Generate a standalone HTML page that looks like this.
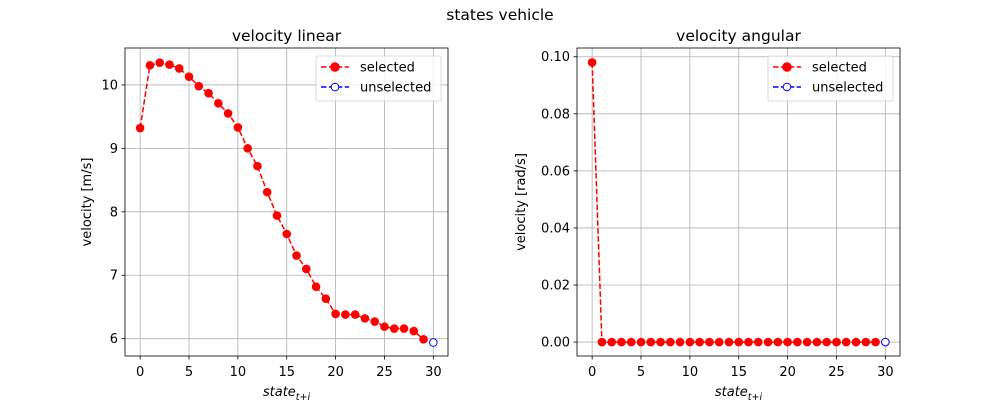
<!DOCTYPE html>
<html><head><meta charset="utf-8"><style>
body{margin:0;background:#fff}
svg text{font-family:"DejaVu Sans","Liberation Sans",sans-serif;fill:#000}
</style></head><body>
<svg id="fig" width="1000" height="400">
<text x="500" y="20" font-size="15.5" text-anchor="middle">states vehicle</text>
</svg>
<script>
const steps = [0,1,2,3,4,5,6,7,8,9,10,11,12,13,14,15,16,17,18,19,20,21,22,23,24,25,26,27,28,29];
const linearSelected = [9.32,10.31,10.35,10.32,10.26,10.13,9.98,9.87,9.71,9.55,9.33,9.0,8.72,8.31,7.94,7.65,7.31,7.10,6.82,6.63,6.39,6.38,6.38,6.32,6.27,6.19,6.16,6.16,6.12,5.99];
const angularSelected = [0.098,0,0,0,0,0,0,0,0,0,0,0,0,0,0,0,0,0,0,0,0,0,0,0,0,0,0,0,0,0];
const unselectedX = [30];
const linearUnselected = [5.94];
const angularUnselected = [0.0];
const xTicks = [0,5,10,15,20,25,30];
const linearYTicks = [6,7,8,9,10];
const angularYTicks = [0.00,0.02,0.04,0.06,0.08,0.10];

const NS='http://www.w3.org/2000/svg';
const svg=document.getElementById('fig');
function mk(tag,attrs,parent){const e=document.createElementNS(NS,tag);for(const k in attrs)e.setAttribute(k,attrs[k]);(parent||svg).appendChild(e);return e;}

function chart(o){
  const g=mk('g',{});
  
  
  const X=v=>o.L+(v-o.xmin)/(o.xmax-o.xmin)*(o.R-o.L);
  const Y=v=>o.B-(v-o.ymin)/(o.ymax-o.ymin)*(o.B-o.T);
  xTicks.forEach(t=>{
    const x=X(t);
    const gl=mk('line',{x1:x,x2:x,y1:o.T,y2:o.B,stroke:'#b0b0b0','stroke-width':0.8},g);
    
    
    mk('line',{x1:x,x2:x,y1:o.B,y2:o.B+3.5,stroke:'#000','stroke-width':0.8},g);
    const tx=mk('text',{x:x,y:o.B+20,'font-size':13,'text-anchor':'middle'},g);
    tx.textContent=t;
    
    
  });
  o.yt.forEach(t=>{
    const y=Y(t);
    const gl=mk('line',{x1:o.L,x2:o.R,y1:y,y2:y,stroke:'#b0b0b0','stroke-width':0.8},g);
    
    
    mk('line',{x1:o.L-3.5,x2:o.L,y1:y,y2:y,stroke:'#000','stroke-width':0.8},g);
    const tx=mk('text',{x:o.L-7,y:y+4.5,'font-size':13,'text-anchor':'end'},g);
    tx.textContent=o.fmt(t);
    
    
  });
  const pts=steps.map((s,i)=>X(s)+','+Y(o.sel[i])).join(' ');
  const ln=mk('polyline',{points:pts,fill:'none',stroke:'#ff0000','stroke-width':1.5,'stroke-dasharray':'5.5,2.4'},g);
  
  
  steps.forEach((s,i)=>{
    const c=mk('circle',{cx:X(s),cy:Y(o.sel[i]),r:4.3,fill:'#ff0000'},g);
    
    
  });
  unselectedX.forEach((s,i)=>{
    const c=mk('circle',{cx:X(s),cy:Y(o.uns[i]),r:3.8,fill:'#fff',stroke:'#0000ff','stroke-width':1},g);
    
    
  });
  const fr=mk('rect',{x:o.L,y:o.T,width:o.R-o.L,height:o.B-o.T,fill:'none',stroke:'#000','stroke-width':0.8},g);
  
  
  const ti=mk('text',{x:(o.L+o.R)/2,y:o.T-7,'font-size':15.5,'text-anchor':'middle'},g);
  ti.textContent=o.title;
  
  
  const xl=mk('text',{x:(o.L+o.R)/2,y:o.B+40,'font-size':13,'text-anchor':'middle','font-style':'italic'},g);
  xl.innerHTML='state<tspan dy="4" font-size="9.5">t+i</tspan>';
  
  
  const yx=o.L-o.ylOff, yy=(o.T+o.B)/2;
  const yl=mk('text',{x:yx,y:yy,'font-size':13,'text-anchor':'middle',transform:`rotate(-90 ${yx} ${yy})`},g);
  yl.textContent=o.ylabel;
  
  
  const lg=mk('g',{},g);
  
  
  mk('rect',{x:o.lgx,y:56,width:125,height:45,rx:2,fill:'#fff','fill-opacity':0.8,stroke:'#d0d0d0','stroke-width':0.8},lg);
  [['selected','#ff0000',true],['unselected','#0000ff',false]].forEach((e,i)=>{
    const y=67+i*20;
    const eg=mk('g',{},lg);
    
    
    mk('line',{x1:o.lgx+5,x2:o.lgx+33,y1:y,y2:y,stroke:e[1],'stroke-width':1.5,'stroke-dasharray':'5.5,2.4'},eg);
    mk('circle',{cx:o.lgx+19,cy:y,r:e[2]?4.3:3.8,fill:e[2]?e[1]:'#fff',stroke:e[1],'stroke-width':1},eg);
    const t=mk('text',{x:o.lgx+44,y:y+4.5,'font-size':13},eg);
    t.textContent=e[0];
  });
}
chart({name:'velocity-linear-chart',L:125,R:448,T:48,B:356,xmin:-1.55,xmax:31.5,ymin:5.727,ymax:10.582,
  yt:linearYTicks,fmt:v=>String(v),sel:linearSelected,uns:linearUnselected,title:'velocity linear',ylabel:'velocity [m/s]',ylOff:34,lgx:316});
chart({name:'velocity-angular-chart',L:577,R:900,T:48,B:356,xmin:-1.55,xmax:31.5,ymin:-0.00488,ymax:0.10306,
  yt:angularYTicks,fmt:v=>v.toFixed(2),sel:angularSelected,uns:angularUnselected,title:'velocity angular',ylabel:'velocity [rad/s]',ylOff:52,lgx:768});
</script>
</body></html>
